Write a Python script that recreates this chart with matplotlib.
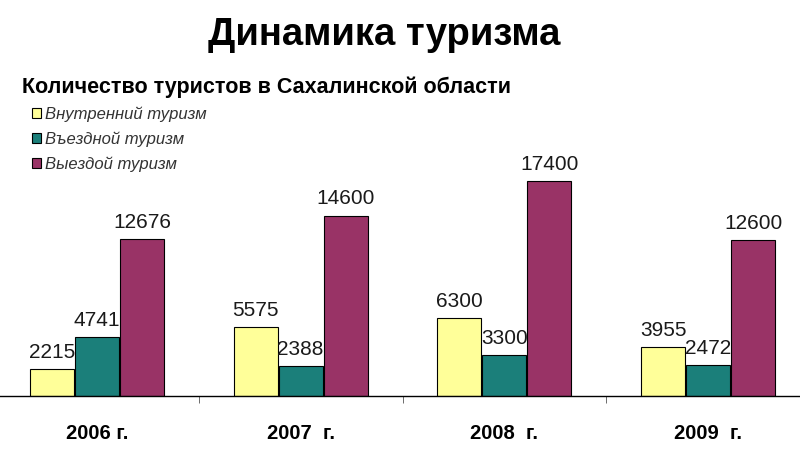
import matplotlib
matplotlib.use("Agg")
import matplotlib.pyplot as plt
import numpy as np
from matplotlib.patches import Patch

plt.rcParams['font.family'] = ['Liberation Sans', 'DejaVu Sans']

years = ["2006 г.", "2007  г.", "2008  г.", "2009  г."]
series_names = ["Внутренний туризм", "Въездной туризм", "Выездой туризм"]
domestic = [2215, 5575, 6300, 3955]
inbound = [4741, 2388, 3300, 2472]
outbound = [12676, 14600, 17400, 12600]
colors = ["#FFFF99", "#1B7F7A", "#993366"]

fig = plt.figure(figsize=(8, 4.5), dpi=100)
ax = fig.add_axes([-5/800, 54/450, 815/800, 296/450])

x = np.arange(len(years))
w = 0.216
offs = [-0.221, 0.0, 0.221]
for vals, off, c in zip([domestic, inbound, outbound], offs, colors):
    bars = ax.bar(x + off, vals, width=w, color=c, edgecolor='black', linewidth=0.8, zorder=2)
    for b, v in zip(bars, vals):
        ax.annotate(str(v), (b.get_x() + b.get_width()/2, b.get_height()),
                    xytext=(0, 8), textcoords='offset points',
                    ha='center', va='baseline', fontsize=15, color='#1a1a1a')

ax.set_xlim(-0.5, 3.5)
ax.set_ylim(0, 23950)
for s in ['top', 'right', 'left']:
    ax.spines[s].set_visible(False)
ax.spines['bottom'].set_linewidth(1.0)
ax.set_yticks([])
ax.set_xticks(x)
ax.set_xticklabels(years, fontsize=14.5, fontweight='bold')
ax.tick_params(axis='x', which='major', length=0, pad=20)
ax.set_xticks([0.5, 1.5, 2.5], minor=True)
ax.tick_params(axis='x', which='minor', length=5, color='#555555')

fig.text(384/800, 1 - 35/450, "Динамика туризма", fontsize=27.5, fontweight='bold',
         ha='center', va='center')
fig.text(22/800, 1 - 87/450, "Количество туристов в Сахалинской области", fontsize=15.5,
         fontweight='bold', ha='left', va='center')

handles = [Patch(facecolor=c, edgecolor='black', linewidth=0.8) for c in colors]
fig.legend(handles, series_names, loc='upper left', bbox_to_anchor=(17/800, 1 - 91/450),
           frameon=False, handlelength=0.55, handleheight=0.55,
           handletextpad=0.25, labelspacing=0.58, prop={'style': 'italic', 'size': 12},
           labelcolor='#333333')

fig.savefig("out.png", dpi=100)
